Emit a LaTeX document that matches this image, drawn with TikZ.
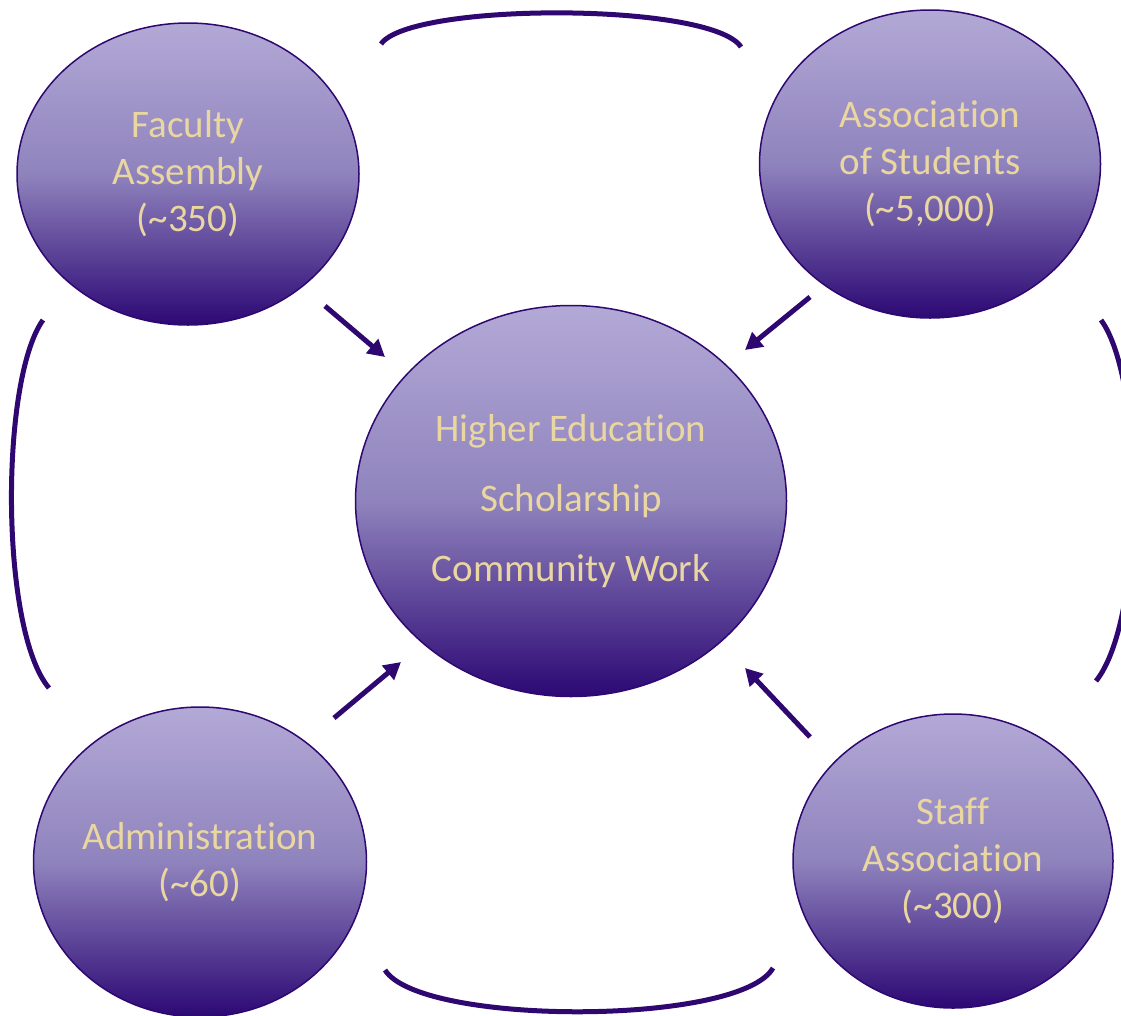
\documentclass[tikz,border=0pt]{standalone}
\usepackage{fontspec}
\setmainfont{Carlito}[Ligatures={NoCommon}]
\usetikzlibrary{
  shapes.geometric,
  arrows.meta,
  positioning
}
\definecolor{lilac}{RGB}{179,169,214}
\definecolor{lilacmid}{RGB}{143,131,189}
\definecolor{royal}{RGB}{44,8,116}
\definecolor{ink}{RGB}{46,8,112}
\definecolor{gold}{RGB}{233,214,160}

\begin{document}
\begin{tikzpicture}[x=1pt, y=-1pt,
    bubble/.style = {ellipse, draw=ink, line width=1.5pt, top color=lilac,
      bottom color=royal, middle color=lilacmid, inner sep=0pt, align=center,
      text=gold, font=\fontsize{39}{47}\selectfont},
    link/.style = {draw=ink, line width=5pt},
    flow/.style = {link, -{Triangle[length=17pt,width=18pt]}}]
    \path[use as bounding box, clip] (0,0) rectangle (1121,1015);

    \node[bubble,minimum width=342pt,minimum height=302pt] (fac) at (188,174) {Faculty\\Assembly\\(\textasciitilde350)};
    \node[bubble,minimum width=341pt,minimum height=308pt] (stu) at (930,164) {Association\\of Students\\(\textasciitilde5,000)};
    \node[bubble,minimum width=431pt,minimum height=391pt,font=\fontsize{39}{70}\selectfont] (hub) at (571,501) {Higher Education\\Scholarship\\Community Work};
    \node[bubble,minimum width=333pt,minimum height=310pt] (adm) at (200,862) {Administration\\(\textasciitilde60)};
    \node[bubble,minimum width=320pt,minimum height=294pt] (stf) at (953,861) {Staff\\Association\\(\textasciitilde300)};

    \coordinate (top1) at (381,44);
    \coordinate (top2) at (741,47);
    \coordinate (lft1) at (43,320);
    \coordinate (lft2) at (49,688);
    \coordinate (rgt1) at (1101,320);
    \coordinate (rgt2) at (1096,681);
    \coordinate (bot1) at (385,970);
    \coordinate (bot2) at (773,968);

    \draw[link] (top1) .. controls (410,2) and (712,2) .. (top2);
    \draw[link] (lft1) .. controls (0,380) and (0,630) .. (lft2);
    \draw[link] (rgt1) .. controls (1145,380) and (1145,620) .. (rgt2);
    \draw[link] (bot1) .. controls (420,1026) and (740,1026) .. (bot2);

    \coordinate (fac out) at (325,306);
    \coordinate (fac in) at (385,357);
    \coordinate (stu out) at (810,297);
    \coordinate (stu in) at (745,350);
    \coordinate (adm out) at (334,718);
    \coordinate (adm in) at (401,662);
    \coordinate (stf out) at (810,737);
    \coordinate (stf in) at (745,668);

    \draw[flow] (fac out) -- (fac in);
    \draw[flow] (stu out) -- (stu in);
    \draw[flow] (adm out) -- (adm in);
    \draw[flow] (stf out) -- (stf in);
  \end{tikzpicture}
\end{document}
